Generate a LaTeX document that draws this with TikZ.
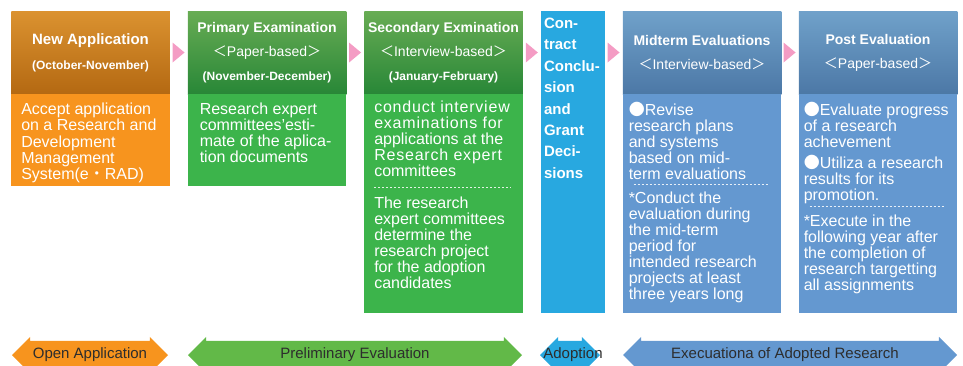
\documentclass[tikz,border=0pt]{standalone}
\usepackage{fontspec}
\setmainfont{Liberation Sans}
\newfontfamily\cjkfont{Noto Sans CJK JP}
\newfontfamily\spacedfont[LetterSpace=5]{Liberation Sans}
\usepackage{tikz}
\usetikzlibrary{%
  positioning,% wg. " of "
  shapes.arrows% double arrows of the phases
}

\definecolor{orangeH1}{RGB}{219,146,48}
\definecolor{orangeH2}{RGB}{180,105,18}
\definecolor{orangeB}{RGB}{247,148,30}
\definecolor{greenH1}{RGB}{104,172,84}
\definecolor{greenH2}{RGB}{40,135,55}
\definecolor{greenB}{RGB}{60,180,75}
\definecolor{phasegreen}{RGB}{98,185,72}
\definecolor{cyanB}{RGB}{40,168,224}
\definecolor{blueH1}{RGB}{112,161,202}
\definecolor{blueH2}{RGB}{76,120,166}
\definecolor{blueB}{RGB}{100,152,208}
\definecolor{pinkc}{RGB}{244,156,196}
\definecolor{labelgray}{RGB}{45,45,45}

\newcommand{\lbr}{{\cjkfont ＜}}
\newcommand{\rbr}{{\cjkfont ＞}}

\tikzset{
  hdr/.style={minimum width=158.5pt, minimum height=83pt, inner sep=0pt, text=white,
    align=center, font=\fontsize{14}{24}\selectfont\bfseries},
  orangehdr/.style={hdr, top color=orangeH1, bottom color=orangeH2},
  greenhdr/.style={hdr, top color=greenH1, bottom color=greenH2},
  bluehdr/.style={hdr, top color=blueH1, bottom color=blueH2},
  bodybox/.style={minimum width=158.5pt, inner sep=0pt},
  bodytxt/.style={inner sep=0pt, text=white, align=left, font=\fontsize{16}{16}\selectfont},
  contxt/.style={inner sep=0pt, text=white, align=left, font=\fontsize{15}{21.4}\selectfont\bfseries},
  sepline/.style={white, opacity=0.85, line width=0.7pt, dash pattern=on 2pt off 2pt},
  phase/.style={shape=double arrow, double arrow head extend=4pt, double arrow tip angle=90,
    text height=14pt, text depth=14pt, inner sep=0pt},
  phasetxt/.style={text=labelgray, font=\fontsize{15}{15}\selectfont}
}

\begin{document}
\begin{tikzpicture}[x=1pt, y=1pt]
  \useasboundingbox (0,0) rectangle (963,-365);

  % headers
  \node[orangehdr] (newH) at (90.5,-52.5) {{\fontsize{15}{24}\selectfont New Application}\\[1pt]{\fontsize{12}{24}\selectfont (October-November)}};
  \node[greenhdr] (priH) at (267,-52.5) {Primary Examination\\{\mdseries\lbr Paper-based\rbr}\\{\fontsize{12}{24}\selectfont (November-December)}};
  \node[greenhdr] (secH) at (443.5,-52.5) {Secondary Exmination\\{\mdseries\lbr Interview-based\rbr}\\{\fontsize{12}{24}\selectfont (January-February)}};
  \node[bluehdr] (midH) at (702,-52.5) {Midterm Evaluations\\{\mdseries\lbr Interview-based\rbr}};
  \node[bluehdr] (postH) at (878,-52.5) {Post Evaluation\\{\mdseries\lbr Paper-based\rbr}};

  % bodies
  \node[bodybox, fill=orangeB, minimum height=92pt, below=0pt of newH] (newB) {};
  \node[bodybox, fill=greenB, minimum height=92pt, below=0pt of priH] (priB) {};
  \node[bodybox, fill=greenB, minimum height=219pt, below=0pt of secH] (secB) {};
  \node[bodybox, fill=blueB, minimum height=219pt, below=0pt of midH] (midB) {};
  \node[bodybox, fill=blueB, minimum height=219pt, below=0pt of postH] (postB) {};
  \node[fill=cyanB, minimum width=64pt, minimum height=302pt, inner sep=0pt] (conB) at (573,-162) {};

  % texts
  \node[bodytxt, below right=9pt and 10pt of newB.north west] (newT) {Accept application\\on a Research and\\Development\\Management\\System(e{\cjkfont ・}RAD)};
  \node[bodytxt, below right=8pt and 12pt of priB.north west] (priT) {Research expert\\committees’esti-\\mate of the aplica-\\tion documents};
  \node[bodytxt, below right=6.5pt and 10pt of secB.north west] (secT) {{\spacedfont conduct interview}\\{\spacedfont examinations for}\\applications at the\\{\spacedfont Research expert}\\committees};
  \node[bodytxt, below right=102.5pt and 10pt of secB.north west] (secU) {The research\\expert committees\\determine the\\research project\\for the adoption\\candidates};
  \node[contxt, below right=7pt and 3pt of conB.north west] (conT) {Con-\\tract\\Conclu-\\sion\\and\\Grant\\Deci-\\sions};
  \node[bodytxt, below right=8pt and 6pt of midB.north west] (midT) {{\cjkfont ●}Revise\\research plans\\and systems\\based on mid-\\term evaluations};
  \node[bodytxt, below right=97.5pt and 6pt of midB.north west] (midU) {*Conduct the\\evaluation during\\the mid-term\\period for\\intended research\\projects at least\\three years long};
  \node[bodytxt, below right=8pt and 5pt of postB.north west] (postT) {{\cjkfont ●}Evaluate progress\\of a research\\achevement\\[5pt]{\cjkfont ●}Utiliza a research\\results for its\\promotion.};
  \node[bodytxt, below right=120pt and 5pt of postB.north west] (postU) {*Execute in the\\following year after\\the completion of\\research targetting\\all assignments};

  % dotted separators
  \draw[sepline] ([shift={(10pt,-93pt)}]secB.north west) -- ++(137pt,0);
  \draw[sepline] ([shift={(11pt,-90pt)}]midB.north west) -- ++(134pt,0);
  \draw[sepline] ([shift={(11pt,-112pt)}]postB.north west) -- ++(135pt,0);

  % pink arrows between the stages
  \foreach \n in {priH,secH,conB,midH,postH}
    \fill[pinkc] (\n.west |- newH.east) ++(-3pt,0) -- ++(-12pt,10pt) -- ++(0,-20pt) -- cycle;

  % phases
  \node[phase, fill=orangeB, minimum height=156pt, label={[phasetxt]center:Open Application}] (openP) at (90,-355) {};
  \node[phase, fill=phasegreen, minimum height=334pt, label={[phasetxt]center:Preliminary Evaluation}] (prelP) at (355,-355) {};
  \node[phase, fill=cyanB, minimum height=60pt, label={[phasetxt, xshift=3pt]center:Adoption}] (adopP) at (570,-355) {};
  \node[phase, fill=blueB, minimum height=334pt, label={[phasetxt, xshift=-5pt]center:Execuationa of Adopted Research}] (execP) at (790,-355) {};
\end{tikzpicture}
\end{document}
